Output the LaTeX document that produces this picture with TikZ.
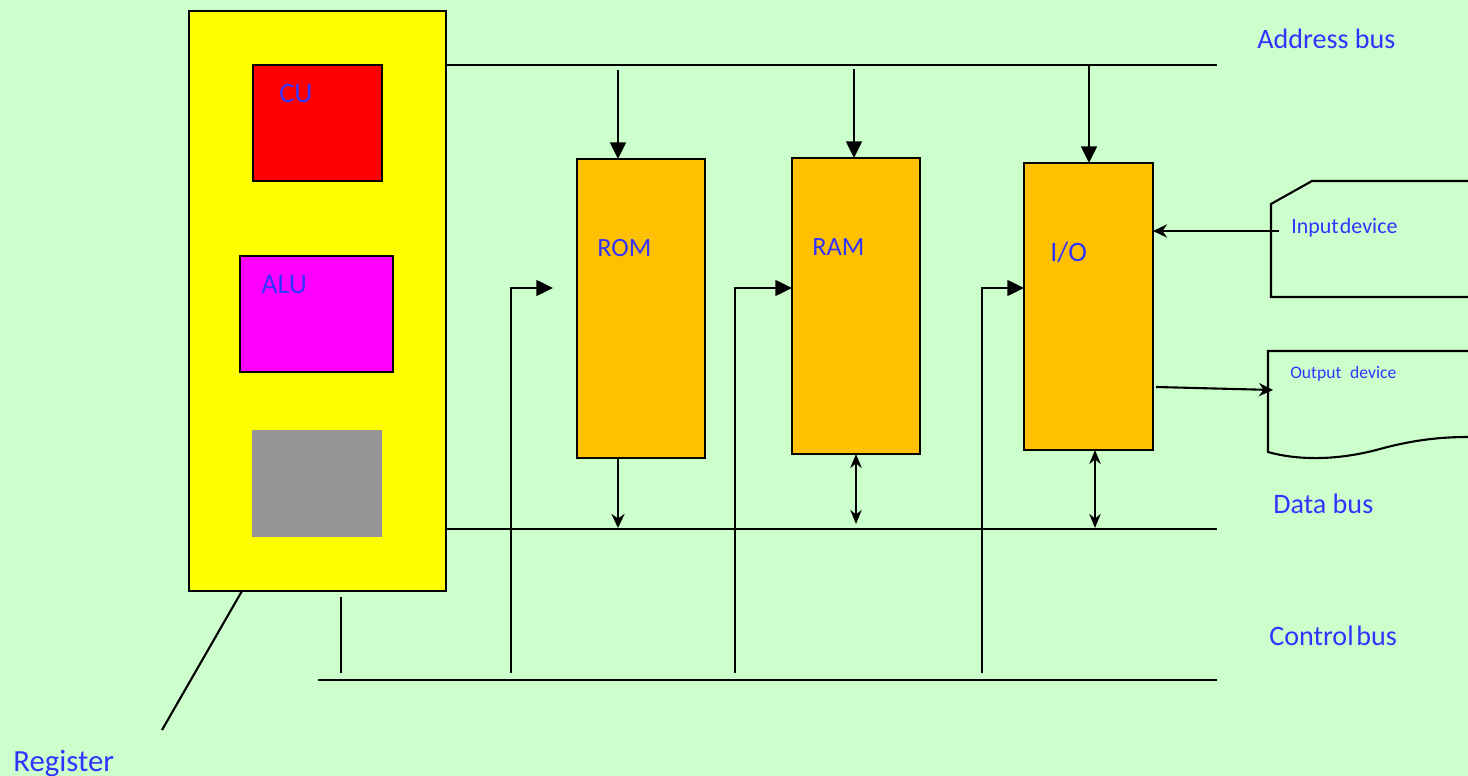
\documentclass[tikz,border=0pt]{standalone}
\usepackage{fontspec}
\setmainfont{Carlito}
\usetikzlibrary{arrows.meta}

\definecolor{bgreen}{RGB}{204,255,204}
\definecolor{cpuyellow}{RGB}{255,255,0}
\definecolor{cured}{RGB}{255,0,0}
\definecolor{alumagenta}{RGB}{255,0,255}
\definecolor{reggrey}{RGB}{150,150,150}
\definecolor{memorange}{RGB}{255,192,0}
\definecolor{labelblue}{RGB}{51,51,255}

\tikzset{
  unit/.style = {draw, line width = 1.2pt, inner sep = 0pt, outer sep = 0pt},
  label text/.style = {text = labelblue, inner sep = 0pt, anchor = base west, font = \fontsize{16}{18}\selectfont},
  bus/.style = {line width = 1.2pt},
  tri arrow/.style = {line width = 1.2pt, -{Triangle[length = 9.5pt, width = 9pt]}},
  st arrow/.style = {line width = 1.2pt, -{Stealth[length = 8pt, width = 7.5pt]}},
  both arrow/.style = {line width = 1.2pt, {Stealth[length = 8pt, width = 6.5pt]}-{Stealth[length = 8pt, width = 6.5pt]}}
}

\begin{document}
\begin{tikzpicture}[x = 0.02cm, y = -0.02cm]
    \fill[bgreen] (0, 0) rectangle (1468, 776);
    \useasboundingbox (0, 0) rectangle (1468, 776);

    % processor
    \node[unit, fill = cpuyellow, minimum width = 5.14cm, minimum height = 11.6cm] (cpu) at (317.5, 301) {};
    \node[unit, fill = cured, minimum width = 2.58cm, minimum height = 2.32cm] (cu) at (317.5, 123) {};
    \node[unit, fill = alumagenta, minimum width = 3.06cm, minimum height = 2.32cm] (alu) at (316.5, 314) {};
    \node[inner sep = 0pt, fill = reggrey, minimum width = 2.6cm, minimum height = 2.14cm] (register) at (317, 483.5) {};
    \node[label text] (cu label) at (279, 103) {CU};
    \node[label text] (alu label) at (261, 294) {ALU};

    % memory and i/o
    \node[unit, fill = memorange, minimum width = 2.56cm, minimum height = 5.98cm] (rom) at (641, 308.5) {};
    \node[unit, fill = memorange, minimum width = 2.56cm, minimum height = 5.92cm] (ram) at (856, 306) {};
    \node[unit, fill = memorange, minimum width = 2.58cm, minimum height = 5.74cm] (io) at (1088.5, 306.5) {};
    \node[label text, font = \fontsize{15}{17}\selectfont] (rom label) at (597, 257) {ROM};
    \node[label text, font = \fontsize{15}{17}\selectfont] (ram label) at (812, 256) {RAM};
    \node[label text] (io label) at (1050, 262) {I/O};

    % buses
    \coordinate (address end) at (1217, 65);
    \coordinate (data end) at (1217, 529);
    \coordinate (control start) at (318, 680);
    \coordinate (control end) at (1217, 680);
    \draw[bus] (cpu.east |- address end) -- (address end);
    \draw[bus] (cpu.east |- data end) -- (data end);
    \draw[bus] (control start) -- (control end);
    \node[label text] (address bus) at (1257, 49) {Address bus};
    \node[label text] (data bus) at (1273, 514) {Data bus};
    \node[label text] (control bus) at (1269, 646) {Control\hspace{0.1em}bus};

    % address bus to units
    \coordinate (rom address) at (618, 70);
    \coordinate (ram address) at (854, 69);
    \coordinate (io address) at (1089, 66);
    \draw[tri arrow] (rom address) -- (rom address |- rom.north);
    \draw[tri arrow] (ram address) -- (ram address |- ram.north);
    \draw[tri arrow] (io address) -- (io address |- io.north);

    % units to data bus
    \coordinate (rom data) at (618, 528);
    \coordinate (ram data) at (856, 524);
    \coordinate (io data) at (1095, 528);
    \draw[st arrow] (rom data |- rom.south) -- (rom data);
    \draw[both arrow] (ram data |- ram.south) -- (ram data);
    \draw[both arrow] (io data |- io.south) -- (io data);

    % control bus to units
    \coordinate (cpu control) at (341, 597);
    \coordinate (cpu control end) at (341, 673);
    \coordinate (rom control) at (511, 673);
    \coordinate (ram control) at (735, 673);
    \coordinate (io control) at (982, 673);
    \coordinate (rom control tip) at (553, 288);
    \draw[bus] (cpu control) -- (cpu control end);
    \draw[tri arrow] (rom control) |- (rom control tip);
    \draw[tri arrow] (ram control) |- (ram.west |- rom control tip);
    \draw[tri arrow] (io control) |- (io.west |- rom control tip);

    % register pointer
    \coordinate (register tip) at (162, 730);
    \draw[bus] (242, 0 |- cpu.south) -- (register tip);
    \node[label text, font = \fontsize{17.5}{20}\selectfont] (register label) at (13, 771) {Register};

    % input device
    \draw[bus] (1468, 181) -- (1312, 181) -- (1271, 204) -- (1271, 297) -- (1468, 297);
    \coordinate (input line) at (1279, 231);
    \draw[st arrow] (input line) -- (io.east |- input line);
    \node[label text, font = \fontsize{12.5}{14}\selectfont] (input label) at (1291, 234) {Input\hspace{0.05em}device};

    % output device
    \draw[bus] (1468, 351) -- (1268, 351) -- (1268, 452)
      .. controls (1300, 461) and (1340, 460) .. (1380, 449)
      .. controls (1420, 438) and (1450, 437) .. (1468, 437);
    \coordinate (output tip) at (1273, 390);
    \draw[st arrow] (1156, 387) -- (output tip);
    \node[label text, font = \fontsize{10}{12}\selectfont] (output label) at (1290, 379) {Output\hspace{0.5em}device};
  \end{tikzpicture}
\end{document}
